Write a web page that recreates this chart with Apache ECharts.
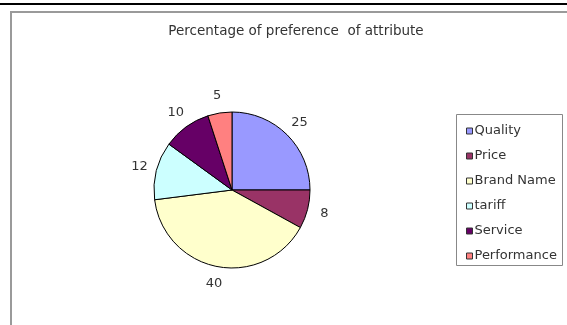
<!DOCTYPE html>
<html>
<head>
<meta charset="utf-8">
<script src="https://cdn.jsdelivr.net/npm/echarts@6/dist/echarts.min.js"></script>
<style>
  html, body { margin: 0; padding: 0; background: #fff; }
  #chart { width: 567px; height: 325px; }
</style>
</head>
<body>
<div id="chart"></div>
<script>
// Preference share per attribute (percent)
const categories = ['Quality', 'Price', 'Brand Name', 'tariff', 'Service', 'Performance'];
const values = [25, 8, 40, 12, 10, 5];
const sliceColors = ['#9999FF', '#993366', '#FFFFCC', '#CCFFFF', '#660066', '#FF8080'];
const titleText = 'Percentage of preference  of attribute';

const FONT = '"DejaVu Sans", Verdana, sans-serif';
const pieData = categories.map((name, i) => ({ name, value: values[i] }));

const chart = echarts.init(document.getElementById('chart'), null, { renderer: 'canvas' });

chart.setOption({
  backgroundColor: '#ffffff',
  animation: false,
  color: sliceColors,
  graphic: [
    // thin black rule along the top edge
    { type: 'rect', shape: { x: 0, y: 3, width: 567, height: 2 }, style: { fill: '#000' }, silent: true },
    // grey outer frame of the chart area
    { type: 'rect', shape: { x: 11, y: 12, width: 600, height: 400 },
      style: { fill: 'none', stroke: '#9a9a9a', lineWidth: 2 }, silent: true },
    // legend frame
    { type: 'rect', shape: { x: 456.5, y: 114.5, width: 106, height: 151 },
      style: { fill: 'none', stroke: '#888', lineWidth: 1 }, silent: true }
  ],
  title: {
    text: titleText,
    left: 296,
    top: 23,
    padding: 0,
    textAlign: 'center',
    textStyle: { fontFamily: FONT, fontSize: 13.5, fontWeight: 'normal', color: '#333', lineHeight: 16 }
  },
  legend: {
    orient: 'vertical',
    left: 466,
    top: 124,
    padding: 0,
    icon: 'rect',
    itemWidth: 6,
    itemHeight: 6,
    itemGap: 11,
    data: categories,
    itemStyle: { borderColor: '#333', borderWidth: 1 },
    textStyle: { fontFamily: FONT, fontSize: 13, color: '#333', lineHeight: 14, padding: [0, 0, 0, -3] }
  },
  series: [
    {
      // the pie itself
      type: 'pie',
      center: [232, 190],
      radius: 78,
      startAngle: 90,
      clockwise: true,
      data: pieData,
      itemStyle: { borderColor: '#000', borderWidth: 1 },
      label: { show: false },
      labelLine: { show: false },
      emphasis: { disabled: true }
    },
    {
      // transparent ring that carries the value labels just outside the pie
      type: 'pie',
      center: [232, 190],
      radius: [84, 101],
      startAngle: 90,
      clockwise: true,
      silent: true,
      data: pieData,
      itemStyle: { color: 'rgba(0,0,0,0)', borderWidth: 0 },
      label: {
        show: true,
        position: 'inside',
        rotate: 0,
        formatter: '{c}',
        fontFamily: FONT,
        fontSize: 13,
        color: '#333'
      },
      labelLine: { show: false },
      emphasis: { disabled: true }
    }
  ]
});
</script>
</body>
</html>
